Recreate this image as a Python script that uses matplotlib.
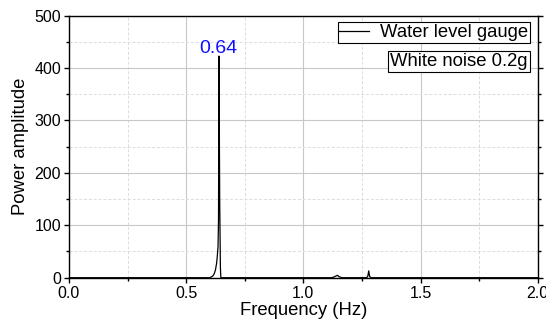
import numpy as np
import matplotlib
matplotlib.use("Agg")
import matplotlib.pyplot as plt
from matplotlib.ticker import MultipleLocator

plt.rcParams['font.family'] = ['Liberation Sans', 'DejaVu Sans']

# spectrum (Hz, amplitude)
freq = [0.0, 0.600, 0.605, 0.610, 0.615, 0.620, 0.625, 0.630, 0.633, 0.636, 0.638,
        0.640, 0.643, 0.646, 0.648, 1.120, 1.132, 1.140, 1.146, 1.152, 1.165,
        1.270, 1.275, 1.279, 1.283, 1.290, 2.0]
amp = [0.0, 0.0, 1.0, 2.0, 4.0, 8.0, 15.0, 28.0, 42.0, 60.0, 110.0,
       423.0, 150.0, 20.0, 0.0, 0.0, 1.5, 3.5, 4.5, 2.0, 0.0,
       0.0, 3.0, 13.0, 2.0, 0.0, 0.0]
peak_f = 0.637
peak_label = "0.64"
legend_label = "Water level gauge"
case_label = "White noise 0.2g"

fig = plt.figure(figsize=(5.46, 3.28), dpi=100)
ax = fig.add_axes([69 / 546, 1 - 277.7 / 328, (537.7 - 69) / 546, (277.7 - 15.7) / 328])

ax.plot(freq, amp, color='black', lw=0.9, label=legend_label)
ax.text(peak_f, 429, peak_label, color='#1010ff', fontsize=14, ha='center', va='baseline')

ax.set_xlim(0, 2.0)
ax.set_ylim(0, 500)
ax.xaxis.set_major_locator(MultipleLocator(0.5))
ax.xaxis.set_minor_locator(MultipleLocator(0.25))
ax.yaxis.set_major_locator(MultipleLocator(100))
ax.yaxis.set_minor_locator(MultipleLocator(50))
ax.xaxis.set_major_formatter(lambda v, p: f"{v:.1f}")

ax.grid(which='major', color='#c8c8c8', lw=0.8, ls='-')
ax.grid(which='minor', color='#dcdcdc', lw=0.7, ls=(0, (3, 2)))
ax.set_axisbelow(True)

for s in ax.spines.values():
    s.set_linewidth(1.0)
ax.tick_params(which='both', direction='out', labelsize=11.5, width=1.0,
               top=False, right=True, labelright=False)
ax.tick_params(which='major', length=3.8, pad=2)
ax.tick_params(which='minor', length=2.2)

ax.set_xlabel("Frequency (Hz)", fontsize=13.3, labelpad=1)
ax.set_ylabel("Power amplitude", fontsize=13.3, labelpad=4)

leg = ax.legend(loc='upper right', bbox_to_anchor=(530 / 546, 1 - 22.3 / 328),
                bbox_transform=fig.transFigure, borderaxespad=0, fancybox=False,
                edgecolor='black', framealpha=1, fontsize=13.3, handlelength=1.6,
                handletextpad=0.6, borderpad=0.1)
leg.get_frame().set_linewidth(0.8)

fig.text(530 / 546 - 0.004, 1 - 61.2 / 328, case_label, fontsize=13.3, ha='right', va='center',
         bbox=dict(boxstyle='square,pad=0.1', fc='white', ec='black', lw=0.8))

fig.savefig("out.png", dpi=100)
